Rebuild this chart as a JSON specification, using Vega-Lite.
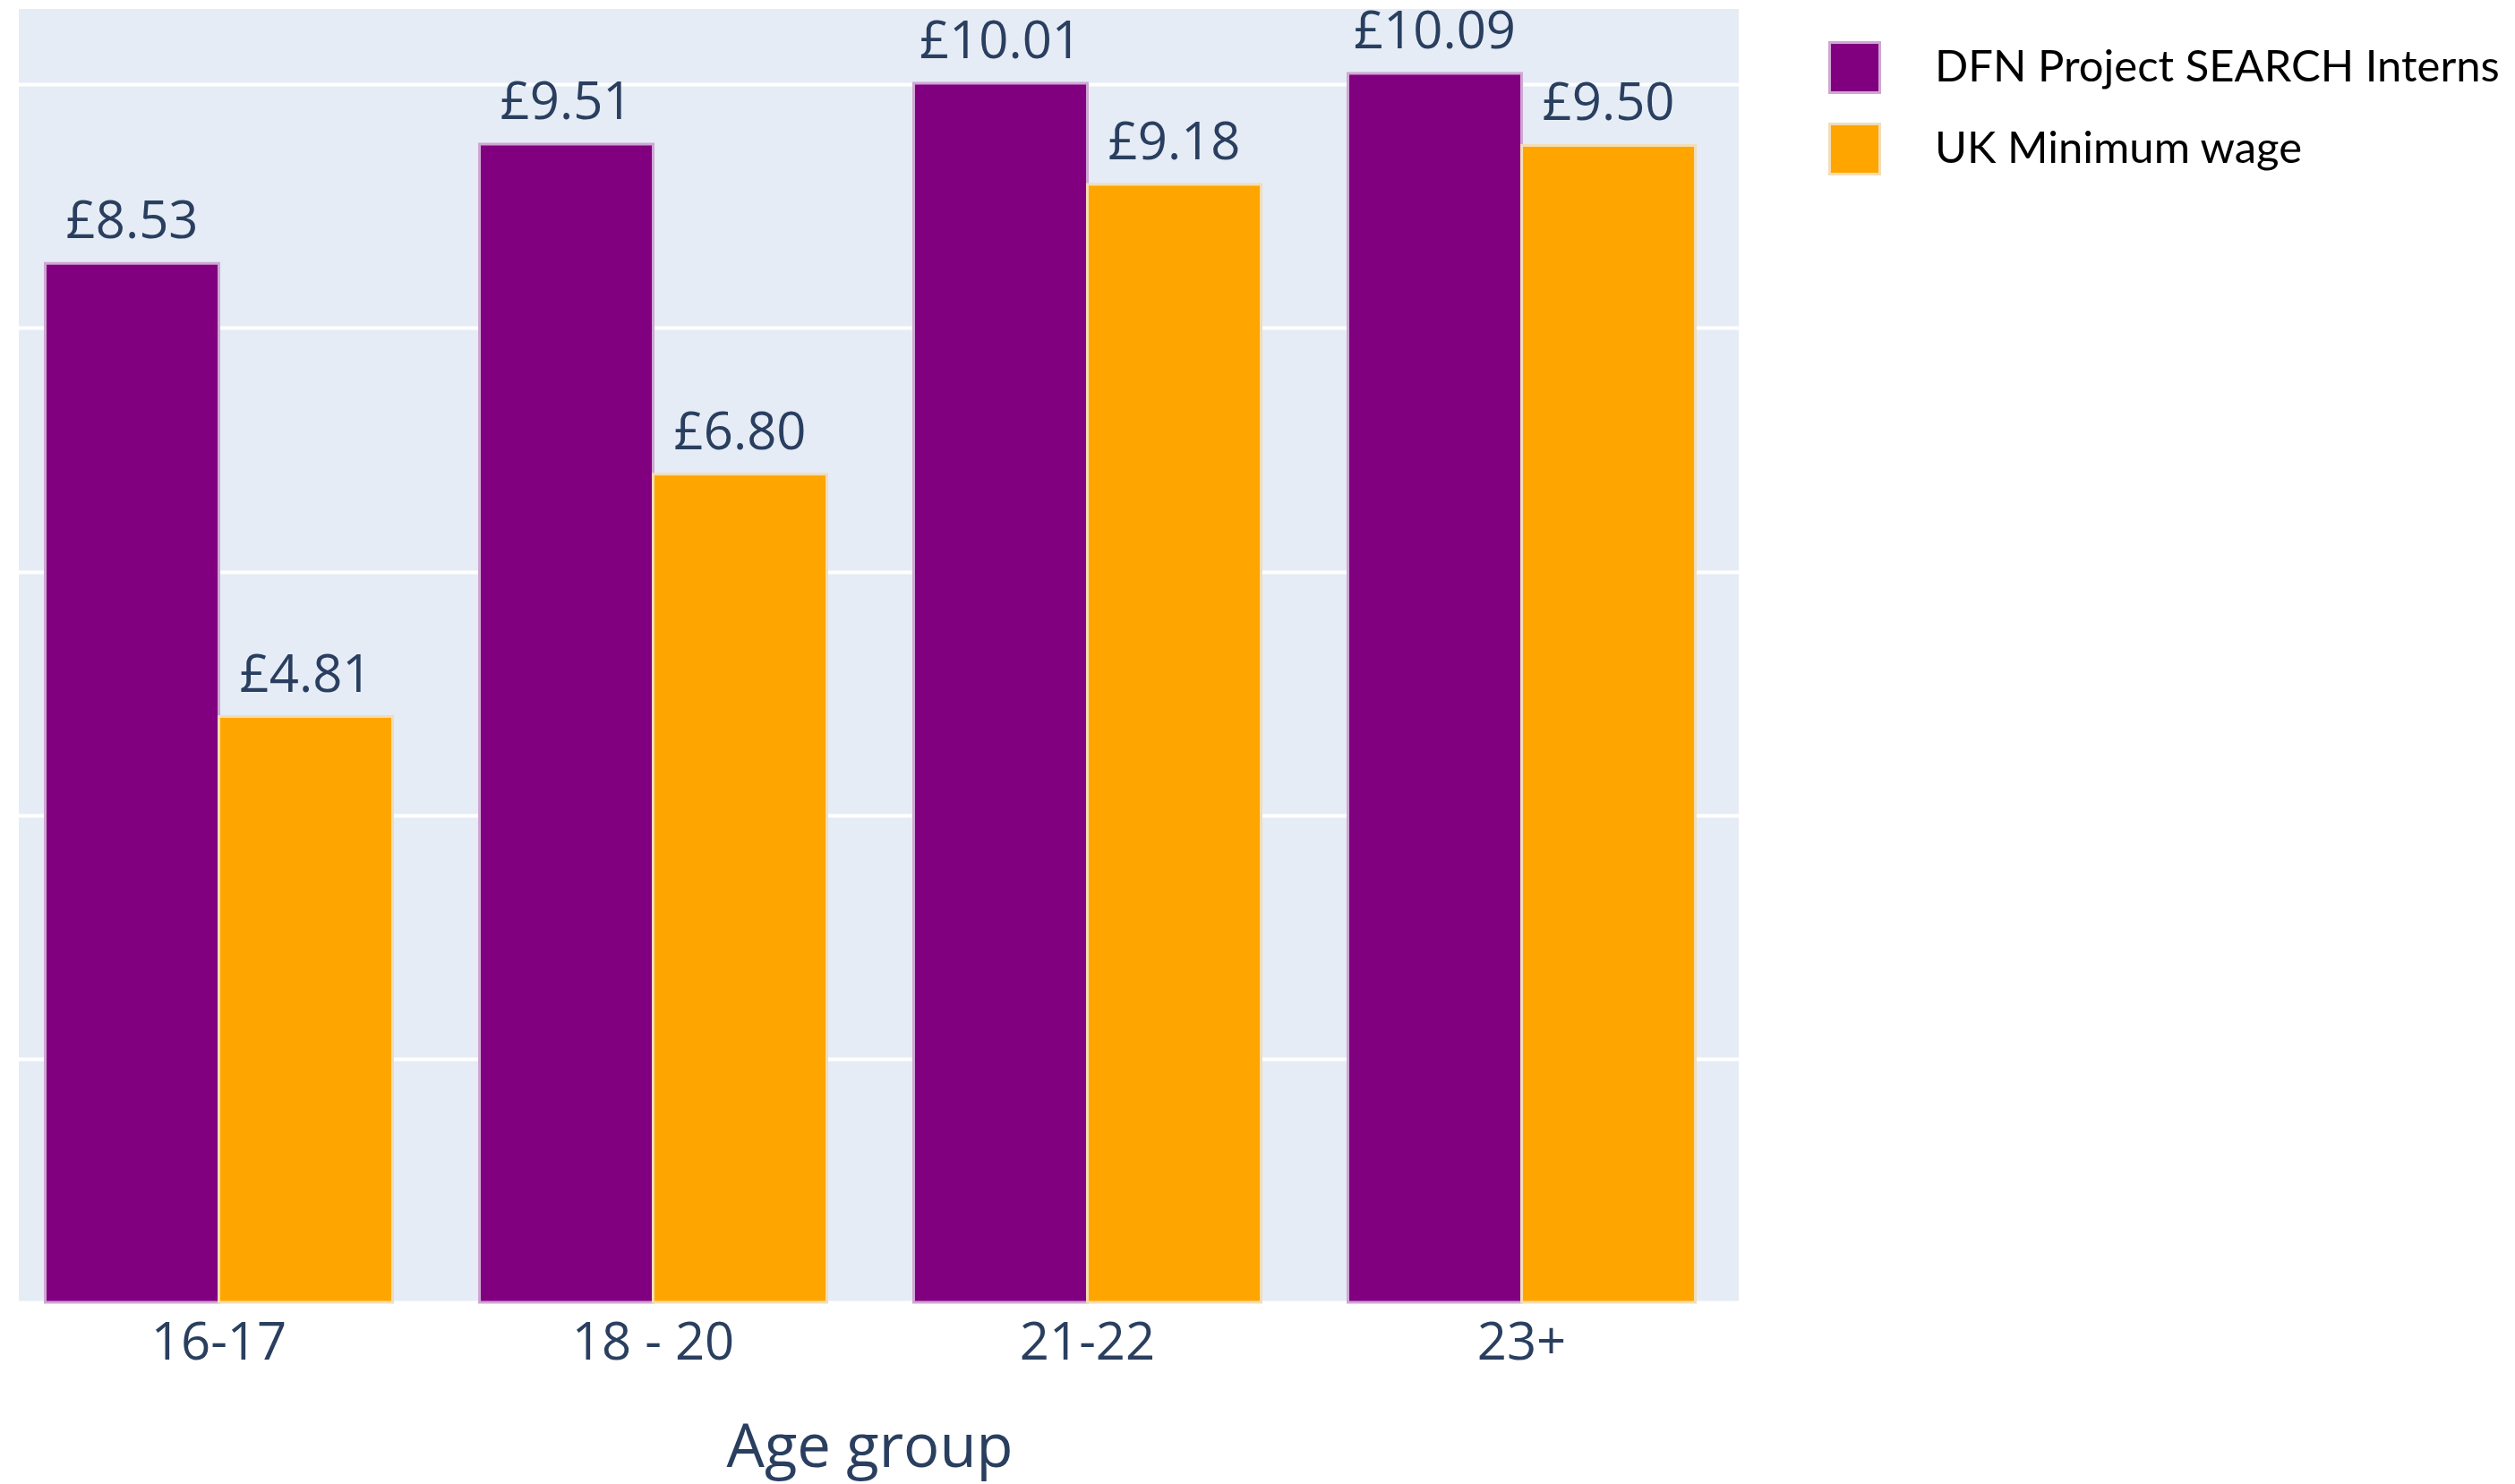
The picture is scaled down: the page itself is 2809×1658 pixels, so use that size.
{
  "$schema": "https://vega.github.io/schema/vega-lite/v6.json",
  "width": 1921,
  "height": 1445,
  "autosize": {"type": "none"},
  "padding": {"left": 21, "top": 10, "right": 867, "bottom": 203},
  "background": "white",
  "config": {
    "view": {"fill": "#E5ECF6", "stroke": null},
    "font": "Open Sans",
    "locale": {
      "number": {"decimal": ".", "thousands": ",", "grouping": [3], "currency": ["£", ""]}
    }
  },
  "data": {
    "values": [
      {"age": "16-17", "series": "DFN Project SEARCH Interns", "wage": 8.53},
      {"age": "16-17", "series": "UK Minimum wage", "wage": 4.81},
      {"age": "18 - 20", "series": "DFN Project SEARCH Interns", "wage": 9.51},
      {"age": "18 - 20", "series": "UK Minimum wage", "wage": 6.80},
      {"age": "21-22", "series": "DFN Project SEARCH Interns", "wage": 10.01},
      {"age": "21-22", "series": "UK Minimum wage", "wage": 9.18},
      {"age": "23+", "series": "DFN Project SEARCH Interns", "wage": 10.09},
      {"age": "23+", "series": "UK Minimum wage", "wage": 9.50}
    ]
  },
  "encoding": {
    "x": {
      "field": "age",
      "type": "nominal",
      "sort": ["16-17", "18 - 20", "21-22", "23+"],
      "scale": {"range": [-19, 1921], "paddingInner": 0.2, "paddingOuter": 0.1},
      "axis": {
        "title": "Age group",
        "labelAngle": 0,
        "labelLimit": 400,
        "labelOverlap": false,
        "ticks": false,
        "domain": false,
        "grid": false,
        "labelPadding": 17,
        "labelFont": "Open Sans",
        "labelFontSize": 58,
        "labelColor": "#2a3f5f",
        "titleFont": "Open Sans",
        "titleFontSize": 67,
        "titleFontWeight": "normal",
        "titleColor": "#2a3f5f",
        "titleBaseline": "alphabetic",
        "titleAlign": "center",
        "titleX": 950,
        "titleY": 183
      }
    },
    "xOffset": {
      "field": "series",
      "type": "nominal",
      "sort": ["DFN Project SEARCH Interns", "UK Minimum wage"],
      "scale": {"paddingInner": 0, "paddingOuter": 0}
    },
    "y": {
      "field": "wage",
      "type": "quantitative",
      "scale": {"domain": [0, 10.62], "nice": false},
      "axis": {
        "title": null,
        "labels": false,
        "ticks": false,
        "domain": false,
        "values": [0, 2, 4, 6, 8, 10],
        "gridColor": "white",
        "gridWidth": 4,
        "gridOpacity": 1
      }
    }
  },
  "layer": [
    {
      "mark": {"type": "bar", "strokeWidth": 3},
      "encoding": {
        "color": {
          "field": "series",
          "type": "nominal",
          "scale": {
            "domain": ["DFN Project SEARCH Interns", "UK Minimum wage"],
            "range": ["#800080", "#FFA500"]
          },
          "legend": {
            "orient": "none",
            "legendX": 2021,
            "legendY": 36,
            "title": null,
            "padding": 0,
            "symbolType": "square",
            "symbolSize": 3136,
            "symbolStrokeColor": "#EADCEB",
            "symbolStrokeWidth": 3,
            "labelFont": "Lato",
            "labelFontSize": 49,
            "labelColor": "black",
            "labelOffset": 60,
            "labelLimit": 800,
            "rowPadding": 22
          }
        },
        "stroke": {
          "field": "series",
          "type": "nominal",
          "scale": {
            "domain": ["DFN Project SEARCH Interns", "UK Minimum wage"],
            "range": ["#CFA6D3", "#F2DDB6"]
          },
          "legend": null
        }
      }
    },
    {
      "mark": {
        "type": "text",
        "dy": -28,
        "baseline": "alphabetic",
        "align": "center",
        "font": "Open Sans",
        "fontSize": 58,
        "color": "#2a3f5f"
      },
      "encoding": {
        "text": {"field": "wage", "type": "quantitative", "format": "$.2f"}
      }
    }
  ]
}
